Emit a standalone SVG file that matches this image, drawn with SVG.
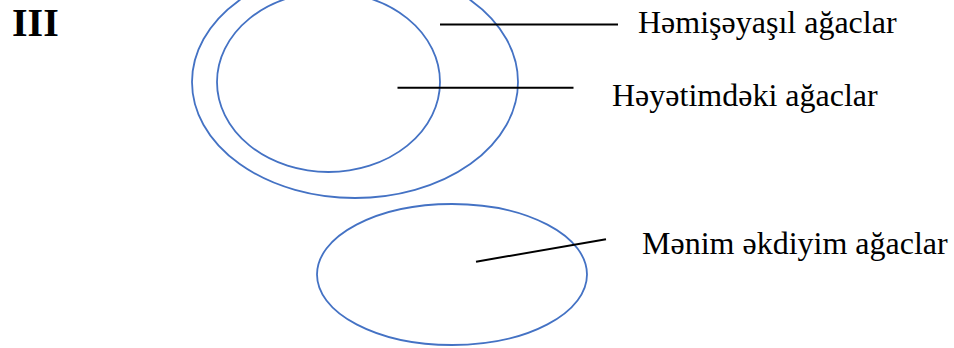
<svg xmlns="http://www.w3.org/2000/svg" width="954" height="348" viewBox="0 0 954 348">
<style>
.ell{fill:none;stroke:#4472C4;stroke-width:1.8}
.ln{stroke:#000;stroke-width:2;fill:none}
.lbl{font-family:"Liberation Serif","DejaVu Serif",serif;font-size:32px;fill:#000}
.title{font-family:"Liberation Serif","DejaVu Serif",serif;font-size:40px;font-weight:bold;fill:#000}
</style>
<rect width="954" height="348" fill="#fff"/>
<text class="title" x="12" y="36">III</text>
<g id="outer">
<ellipse class="ell" cx="355" cy="82" rx="163" ry="116"/>
</g>
<g id="inner">
<ellipse class="ell" cx="328.5" cy="82" rx="111.5" ry="90"/>
</g>
<g id="bottom">
<ellipse class="ell" cx="452" cy="274.5" rx="135" ry="70.5"/>
</g>
<g id="connectors">
<line class="ln" x1="440" y1="24.5" x2="618" y2="24.5"/>
<line class="ln" x1="397.5" y1="87.7" x2="573.5" y2="87.7"/>
<line class="ln" x1="476" y1="261.7" x2="606" y2="239.3"/>
</g>
<g id="label1"><text class="lbl" x="638" y="33">Həmişəyaşıl ağaclar</text></g>
<g id="label2"><text class="lbl" x="612" y="106">Həyətimdəki ağaclar</text></g>
<g id="label3"><text class="lbl" x="642" y="253.5">Mənim əkdiyim ağaclar</text></g>
</svg>
